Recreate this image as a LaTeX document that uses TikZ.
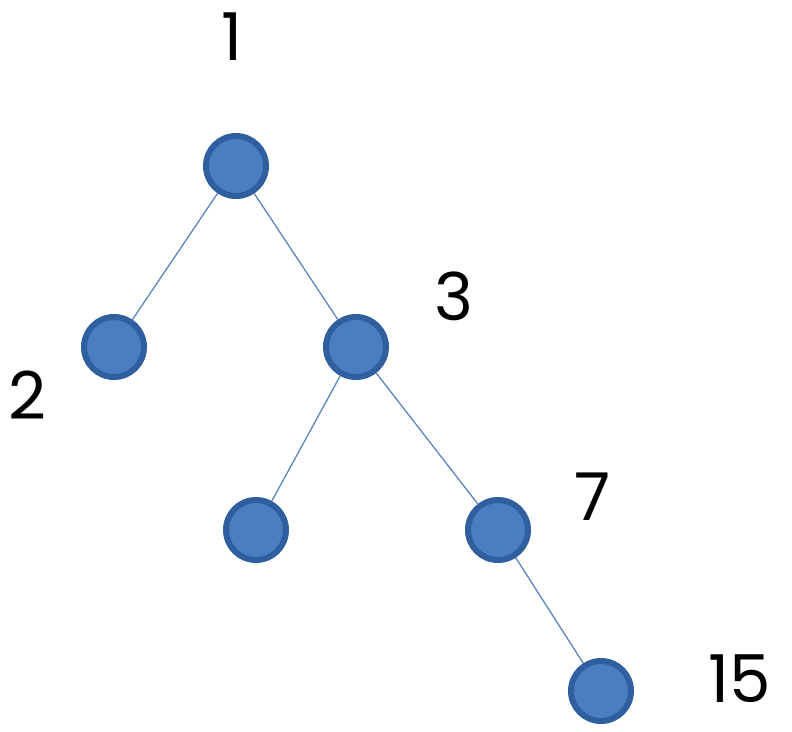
\documentclass[tikz,border=0pt]{standalone}
\usepackage{fontspec}
\setmainfont{Poppins}
\definecolor{nodefill}{HTML}{4A7EC3}
\definecolor{nodeedge}{HTML}{2F5F9E}
\definecolor{edgecol}{HTML}{5A86BE}
\begin{document}
\begin{tikzpicture}[x=1pt,y=1pt,
  tnode/.style={circle,draw=nodeedge,fill=nodefill,line width=6pt,minimum size=60pt,inner sep=0pt},
  lbl/.style={inner sep=0pt,font=\fontsize{66}{66}\selectfont},
  conn/.style={draw=edgecol,line width=1.3pt}]
\useasboundingbox (0,0) rectangle (792,731);
\node[tnode] (n1) at (236,565) {};
\node[tnode] (n2) at (114,384) {};
\node[tnode] (n3) at (356,384) {};
\node[tnode] (n6) at (256,201) {};
\node[tnode] (n7) at (498,201) {};
\node[tnode] (n15) at (601,40) {};
\draw[conn] (n1) -- (n2);
\draw[conn] (n1) -- (n3);
\draw[conn] (n3) -- (n6);
\draw[conn] (n3) -- (n7);
\draw[conn] (n7) -- (n15);
\node[lbl] (l1) at (232,694) {1};
\node[lbl] (l2) at (27,336) {2};
\node[lbl] (l3) at (454,435) {3};
\node[lbl] (l7) at (593,234) {7};
\node[lbl] (l15) at (740,52) {15};
\end{tikzpicture}
\end{document}
